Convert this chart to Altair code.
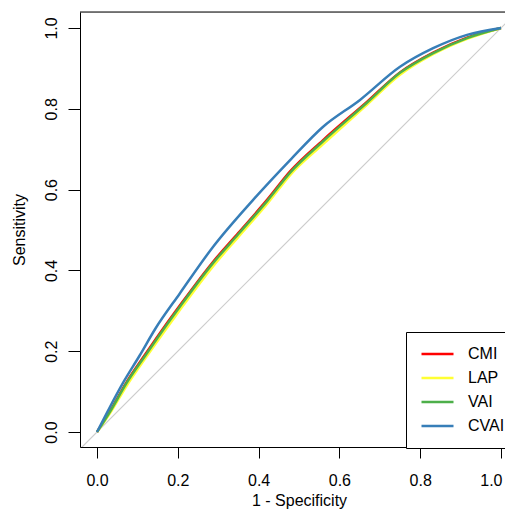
import altair as alt
import pandas as pd

# ---- data ----
series_names = ["CMI", "LAP", "VAI", "CVAI"]
series_colors = ["#FF0000", "#FFFF33", "#4DAF4A", "#377EB8"]

cmi_fpr = [0, 0.032, 0.073, 0.12, 0.163, 0.205, 0.287, 0.35, 0.423, 0.478, 0.559, 0.668, 0.75, 0.832, 0.916, 1.0]
cmi_tpr = [0, 0.051, 0.123, 0.193, 0.255, 0.313, 0.421, 0.493, 0.577, 0.645, 0.722, 0.817, 0.890, 0.939, 0.976, 1.0]

lap_fpr = [0, 0.032, 0.073, 0.12, 0.163, 0.205, 0.287, 0.35, 0.423, 0.478, 0.559, 0.668, 0.75, 0.832, 0.916, 1.0]
lap_tpr = [0, 0.046, 0.114, 0.183, 0.244, 0.302, 0.410, 0.483, 0.567, 0.636, 0.712, 0.810, 0.884, 0.935, 0.973, 1.0]

vai_fpr = [0, 0.032, 0.073, 0.12, 0.163, 0.205, 0.287, 0.35, 0.423, 0.478, 0.559, 0.668, 0.75, 0.832, 0.916, 1.0]
vai_tpr = [0, 0.050, 0.121, 0.190, 0.252, 0.310, 0.418, 0.490, 0.574, 0.642, 0.719, 0.815, 0.889, 0.938, 0.975, 1.0]

cvai_fpr = [0, 0.032, 0.064, 0.106, 0.144, 0.205, 0.287, 0.386, 0.478, 0.559, 0.651, 0.75, 0.832, 0.916, 1.0]
cvai_tpr = [0, 0.062, 0.121, 0.190, 0.255, 0.343, 0.458, 0.574, 0.673, 0.755, 0.822, 0.904, 0.950, 0.983, 1.0]

diag_vals = [-0.1, 1.1]
tick_vals = [0.0, 0.2, 0.4, 0.6, 0.8, 1.0]

rows = []
for name, fpr, tpr in [("CMI", cmi_fpr, cmi_tpr), ("LAP", lap_fpr, lap_tpr),
                       ("VAI", vai_fpr, vai_tpr), ("CVAI", cvai_fpr, cvai_tpr)]:
    for i, (f, t) in enumerate(zip(fpr, tpr)):
        rows.append({"model": name, "fpr": f, "tpr": t, "idx": i})
df = pd.DataFrame(rows)
diag_df = pd.DataFrame({"fpr": diag_vals, "tpr": diag_vals})

FONT = "Liberation Sans"
W, H = 425, 435

xscale = alt.Scale(domain=[-0.0421, 1.0099], nice=False, zero=False)
yscale = alt.Scale(domain=[-0.0371, 1.0396], nice=False, zero=False)

xaxis = alt.Axis(values=tick_vals, format=".1f", title="1 - Specificity",
                 grid=False, tickSize=11, tickColor="black", domainColor="black",
                 labelFont=FONT, labelFontSize=16, labelColor="black",
                 labelBaseline="alphabetic", labelPadding=27,
                 labelFlush=10, labelFlushOffset=1,
                 titleFont=FONT, titleFontSize=16, titleFontWeight="normal", titleColor="black",
                 titleX=219, titleY=58, titleBaseline="alphabetic", titleAlign="center")
yaxis = alt.Axis(values=tick_vals, format=".1f", title="Sensitivity",
                 grid=False, tickSize=12, tickColor="black", domainColor="black",
                 labelFont=FONT, labelFontSize=16, labelColor="black",
                 labelAngle=270, labelAlign="center", labelBaseline="alphabetic",
                 labelPadding=12, labelFlush=False,
                 titleFont=FONT, titleFontSize=16, titleFontWeight="normal", titleColor="black",
                 titleAngle=270, titleX=-56, titleY=H / 2, titleBaseline="alphabetic",
                 titleAlign="center")

diag = alt.Chart(diag_df).mark_line(color="#CCCCCC", strokeWidth=1.2, clip=True).encode(
    x=alt.X("fpr:Q", scale=xscale, axis=xaxis),
    y=alt.Y("tpr:Q", scale=yscale, axis=yaxis),
)

lines = alt.Chart(df).mark_line(strokeWidth=2.5, clip=True, interpolate="monotone").encode(
    x=alt.X("fpr:Q", scale=xscale, axis=xaxis),
    y=alt.Y("tpr:Q", scale=yscale, axis=yaxis),
    color=alt.Color("model:N",
                    scale=alt.Scale(domain=series_names, range=series_colors),
                    legend=alt.Legend(orient="none", legendX=326, legendY=320, title=None,
                                      symbolType="stroke", symbolSize=1024,
                                      symbolStrokeWidth=2.5, labelFont=FONT,
                                      labelFontSize=16, labelColor="black",
                                      labelOffset=13, padding=10, symbolOffset=4,
                                      strokeColor="black", fillColor="white",
                                      clipHeight=24, rowPadding=0)),
    detail="model:N",
    order=alt.Order("idx:Q"),
)

top_border = alt.Chart(pd.DataFrame({"a": [0]})).mark_rule(color="black", strokeWidth=1).encode(
    x=alt.value(0), x2=alt.value(W), y=alt.value(0)
)

chart = alt.layer(diag, lines, top_border).properties(
    width=W, height=H,
    autosize=alt.AutoSizeParams(type="none"),
    padding={"left": 72, "top": 4, "right": 0, "bottom": 62},
).configure_view(stroke=None).configure(background="white")

chart.save("out.html", embed_options={"renderer": "svg", "actions": False})
